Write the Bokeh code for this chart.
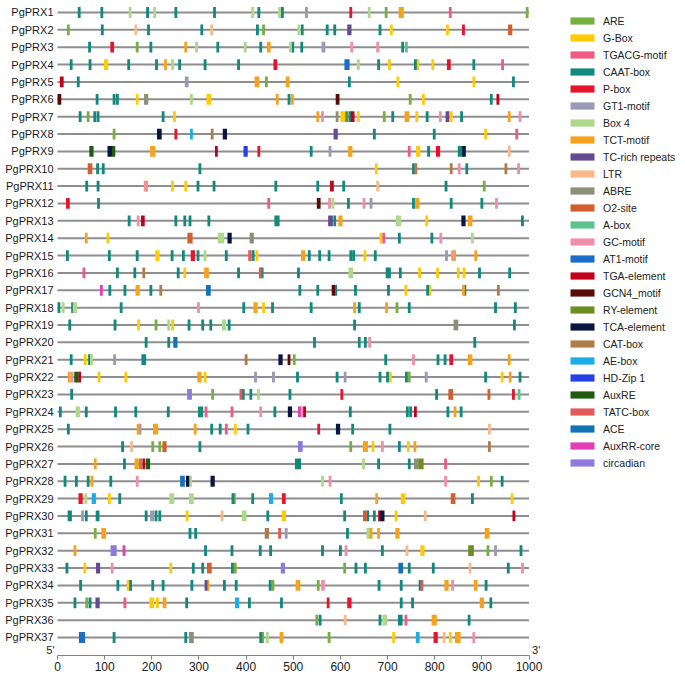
from bokeh.plotting import figure
from bokeh.models import Range1d, FixedTicker, Legend, LegendItem, ColumnDataSource
from bokeh.core.properties import value
from bokeh.embed import file_html
from bokeh.resources import INLINE

# ---------------- data ----------------
genes = [f"PgPRX{i}" for i in range(1, 38)]
gene_length = 1000
x_ticks = [0, 100, 200, 300, 400, 500, 600, 700, 800, 900, 1000]

motif_names = ["ARE", "G-Box", "TGACG-motif", "CAAT-box", "P-box", "GT1-motif", "Box 4",
               "TCT-motif", "TC-rich repeats", "LTR", "ABRE", "O2-site", "A-box", "GC-motif",
               "AT1-motif", "TGA-element", "GCN4_motif", "RY-element", "TCA-element", "CAT-box",
               "AE-box", "HD-Zip 1", "AuxRE", "TATC-box", "ACE", "AuxRR-core", "circadian"]
motif_codes = ["A", "G", "TG", "C", "P", "GT", "B4", "TCT", "TC", "L", "AB", "O2", "Ab", "GC",
               "AT1", "TGA", "GCN", "RY", "TCA", "CAT", "AE", "HD", "AUX", "TATC", "ACE", "ARR", "CIR"]
motif_colors = ["#76B041", "#FFCB05", "#EF5B84", "#118A7D", "#E8132D", "#9C98B8", "#AED98A",
                "#F7A21B", "#654A92", "#F8B98B", "#8C8F78", "#D35F2E", "#5CC28F", "#EF8FAA",
                "#1A6DC9", "#C1001B", "#5B0A0A", "#6D8D22", "#0A1541", "#B07C48",
                "#17AEE9", "#2740E6", "#215B12", "#E25A57", "#1472B6", "#E33DB7", "#8D79DF"]

# (motif code, position in bp[, element length in bp])
PRX1 = [("C",46),("C",94),("B4",154),("C",191),("B4",206),("C",251),("C",333),("B4",414),("C",427),
        ("B4",471),("C",477),("GT",528),("P",622),("B4",661),("A",697),("TCT",729,11),("TG",833),("A",996)]
PRX2 = [("A",23),("C",95),("L",166),("C",193),("C",306),("L",327),("C",424),("A",437),("B4",512),("C",519),
        ("C",572),("C",588),("TC",619,9),("C",684),("G",708),("G",827),("P",861),("O2",960,9)]
PRX3 = [("C",68),("P",116,8),("A",169),("C",198),("TCT",272),("B4",295),("C",340),("B4",398),("C",431),
        ("TCT",448,8),("B4",494),("C",499),("C",518),("GT",564,8),("GC",624),("GC",679),("C",732),("Ab",740)]
PRX4 = [("C",29),("C",69),("G",103,9),("C",151),("C",210),("TCT",229),("B4",244),("C",259),("C",313),
        ("C",384),("P",462,8),("AT1",614,11),("B4",638),("C",681),("G",704),("C",759),("G",764),("G",796),
        ("P",830,8),("C",883),("TG",944)]
PRX5 = [("TGA",9,8),("C",44),("GT",274,8),("TCT",423,10),("A",443),("TCT",488,8),("C",619),("G",722),
        ("G",883),("C",967)]
PRX6 = [("GCN",4,8),("C",84),("C",120),("C",127),("G",169),("AB",188,9),("B4",284),("G",321,10),
        ("TCT",466),("C",491),("TCT",498),("GCN",594,8),("A",748),("G",776),("C",920),("TGA",934)]
PRX7 = [("C",48),("A",65),("C",79),("C",86),("C",224),("G",248),("TCT",552),("GC",562),("AB",593),
        ("G",605,10),("RY",613),("C",620),("TGA",626,8),("G",638),("A",693),("C",711),("TCT",741,10),
        ("G",762),("C",784),("GC",812),("TC",827,8),("G",835),("C",857),("TCT",958),("GC",981)]
PRX8 = [("A",120),("TCA",216,10),("P",251),("AE",284),("CAT",328),("TCA",355,9),("TC",590,9),
        ("C",672),("C",799),("G",908),("TG",974)]
PRX9 = [("AUX",72,9),("TCA",111,10),("AUX",119,7),("TCT",202,11),("TGA",337),("HD",399,9),("P",427),
        ("C",538),("GT",578),("TCT",621,9),("TG",746),("G",765,9),("C",787),("P",807,9),("C",854,10),
        ("TCA",862,8),("L",958)]
PRX10 = [("O2",69,10),("C",85),("C",97),("C",302),("G",676),("C",755),("CAT",760),("CAT",835),("GC",852),
         ("C",868),("CAT",951),("GC",978)]
PRX11 = [("C",62),("C",86),("GC",186),("TCT",189),("G",244),("G",272),("C",298),("C",332),("C",463),
         ("C",552),("TGA",582,8),("C",607),("L",679),("C",824),("A",905)]
PRX12 = [("P",22,8),("C",87),("TG",448),("GCN",554,8),("GC",577),("B4",584),("C",617),("GC",650),
         ("GT",665),("C",755),("TCT",763,9),("C",835),("C",900),("GC",931)]
PRX13 = [("C",152),("GC",171),("TGA",181,8),("C",251),("C",270),("C",281),("C",321),("C",463),("C",468),
         ("TC",579,10),("C",588),("TCT",600,9),("B4",723,11),("G",783),("TCA",861,9),("TCT",875,10),("C",986)]
PRX14 = [("TCT",61),("G",107),("O2",281,11),("B4",347,13),("TCA",365,9),("AB",412,9),("G",686),("TG",692),
         ("C",725),("C",794),("GC",813),("B4",880)]
PRX15 = [("C",21),("C",110),("C",169),("G",212,9),("C",243),("C",267),("P",287,9),("C",298),("B4",313),
         ("C",358),("TATC",408,7),("C",415),("G",423),("TCT",521,9),("C",534),("C",556),("C",576),("C",622),
         ("C",628),("G",652),("C",674),("GT",825),("GC",838),("TCT",842),("TCT",887)]
PRX16 = [("TG",56),("C",127),("C",164),("CAT",183),("C",256),("G",270),("TCT",316,10),("C",384),
         ("TATC",430),("C",434),("C",511),("B4",622,10),("C",699),("C",704),("C",727),("G",768),("G",806),
         ("G",850),("G",862),("C",895),("C",959)]
PRX17 = [("ARR",93),("C",111),("C",143),("TCT",170,9),("C",198),("CAT",219),("ACE",320,10),("C",514),
         ("C",552),("GCN",585,7),("C",590),("C",632),("C",702),("G",739),("C",785),("G",790),("TCT",861),
         ("C",864),("CAT",935)]
PRX18 = [("C",3),("B4",12),("C",32),("B4",37,9),("C",135),("GC",299),("C",395),("TCT",420,9),("G",437),
         ("C",456),("C",538),("TCT",630),("C",640),("TCT",698),("A",720),("C",746),("C",929),("C",971)]
PRX19 = [("C",26),("C",122),("G",172),("A",209),("B4",236),("G",244),("C",279),("C",308),("C",325),
         ("B4",353,9),("C",364),("C",630),("AB",845,10),("C",969)]
PRX20 = [("C",188),("C",236),("ACE",250,9),("C",545),("C",640),("C",653),("GC",662),("C",885)]
PRX21 = [("C",29),("G",59),("C",68),("B4",72),("GT",121),("C",183,10),("CAT",400),("TCA",473,9),
         ("GCN",491),("A",502),("C",696),("GC",755),("C",807),("C",822),("P",835,8),("TCT",875,10),("TCT",958)]
PRX22 = [("TCT",25),("GC",31),("AUX",40,9),("TGA",47),("G",88),("G",145),("TCT",301,9),("G",313),
         ("GT",420),("GT",458),("C",509),("C",593),("GT",610),("C",684),("C",700),("G",706),("C",740),
         ("A",746),("GT",782),("C",908),("G",943),("TCT",960),("C",981)]
PRX23 = [("C",30),("CIR",280,10),("A",329),("TATC",389),("C",394),("C",410),("B4",426),("C",493),
         ("P",603),("C",804),("O2",834,10),("O2",915),("P",967),("Ab",979)]
PRX24 = [("C",6),("B4",43,9),("C",61),("C",123),("C",166),("C",235),("C",301),("C",306),("TG",315),
         ("TG",370),("GC",431),("C",461),("TCA",493,9),("ARR",513),("GC",518),("TGA",524),("C",621),
         ("C",742),("C",749),("TGA",759),("C",828),("TCT",843),("C",856)]
PRX25 = [("C",23),("TCT",171),("GT",175),("TCT",208,11),("TCT",292),("C",327),("C",345),("TG",358),
         ("G",377),("C",404),("P",554),("TCA",595,9),("C",626),("C",705),("L",916)]
PRX26 = [("C",138),("L",157),("A",202),("A",217),("O2",227,9),("C",302),("CIR",515,10),("A",622),
         ("TCT",653,11),("G",669),("GC",689),("C",725),("G",744),("TCT",758),("CAT",916)]
PRX27 = [("TCT",80),("C",142),("TCT",168,9),("CAT",176),("TGA",183),("AUX",192,9),("C",510,13),
         ("B4",649),("C",681),("C",746),("AB",761,10),("RY",771,11),("TG",823)]
PRX28 = [("C",16),("C",40),("C",65),("TCT",73),("C",113),("GC",169),("ACE",265,10),("TCA",276,7),
         ("B4",282),("TCA",329,9),("B4",562),("GC",578),("GC",823),("G",893),("A",920),("C",943)]
PRX29 = [("P",49,9),("B4",60),("AE",77,9),("G",110),("C",132),("B4",242,10),("B4",284,10),("C",372),
         ("A",375),("C",414),("AE",453,9),("P",480,8),("C",602),("TCT",677),("G",733,10),("O2",839,10),
         ("C",880),("G",964)]
PRX30 = [("C",26,9),("GT",53),("C",61),("C",85,8),("C",188),("GT",201,9),("C",209),("C",217),("G",275),
         ("L",349),("B4",396,10),("C",446),("G",480,9),("C",609),("O2",652,8),("C",658),("C",672),
         ("TGA",683),("TCA",689,9),("G",718),("L",780),("TGA",968)]
PRX31 = [("A",80),("TCT",98,10),("C",281),("C",293),("CAT",444,9),("TATC",471),("GT",485),("C",615),
         ("B4",660,9),("TCT",665),("TCT",681),("TCT",721,9),("TCT",911,10)]
PRX32 = [("TCT",37),("CIR",119,13),("ARR",141),("C",314),("C",370),("C",430),("C",452),("C",562),
         ("C",600),("GC",612),("C",689),("L",741),("G",774,9),("RY",877,12),("A",913),("GT",929),("C",983)]
PRX33 = [("C",20),("G",58),("TC",86,9),("GC",116),("G",240),("C",288),("C",308),("O2",322,10),("C",371),
         ("A",377),("CIR",478,9),("A",609),("C",633),("C",653),("ACE",728,10),("C",746),("C",797),("L",875),
         ("C",956),("GC",986)]
PRX34 = [("C",49),("C",128),("G",150),("C",155),("C",202),("C",224),("C",285),("TC",315),("TCT",319),
         ("C",354),("C",379),("C",451),("A",457),("TCT",510,10),("A",553),("GC",563,8),("C",682),("C",729),
         ("C",769),("TATC",773),("TCT",825,9),("GC",838),("TCT",887,8),("C",909)]
PRX35 = [("C",37),("A",62),("C",69),("TC",85,9),("TG",143),("G",200,10),("G",212),("TCT",227,8),
         ("C",274),("AE",381,9),("C",407),("C",475),("P",574),("P",619,9),("C",729),("C",753),
         ("TCT",900,9),("C",919)]
PRX36 = [("A",550),("C",557),("L",610),("C",684),("B4",694,10),("C",727,10),("TG",739),("TCT",799,11),
         ("C",873)]
PRX37 = [("AT1",52,13),("C",120),("C",272),("AB",284,10),("C",431),("A",435),("B4",445),("TCT",475,8),
         ("A",576),("G",713),("AE",764,8),("P",802,9),("L",820),("G",833),("TCT",849,12),("GC",883)]

sites = [PRX1, PRX2, PRX3, PRX4, PRX5, PRX6, PRX7, PRX8, PRX9, PRX10, PRX11, PRX12, PRX13, PRX14,
         PRX15, PRX16, PRX17, PRX18, PRX19, PRX20, PRX21, PRX22, PRX23, PRX24, PRX25, PRX26, PRX27,
         PRX28, PRX29, PRX30, PRX31, PRX32, PRX33, PRX34, PRX35, PRX36, PRX37]

# ---------------- figure ----------------
FONT = "Liberation Sans"
TXT = "#1A1A1A"
BOX_HALF = 0.31
DEFAULT_LEN = 6
Y_TOP, Y_BOTTOM = 0.309, 38.037

p = figure(width=685, height=676, output_backend="svg", toolbar_location=None,
           x_range=Range1d(-120.9, 1331.9), y_range=Range1d(Y_BOTTOM, Y_TOP),
           y_axis_location=None,
           min_border_left=0, min_border_right=0, min_border_top=0, min_border_bottom=21)
p.xgrid.visible = False
p.ygrid.visible = False
p.outline_line_color = None

rows = list(range(1, len(genes) + 1))
line_src = ColumnDataSource(dict(x0=[0] * len(rows), x1=[gene_length] * len(rows), y=rows))
p.segment(x0="x0", x1="x1", y0="y", y1="y", source=line_src, line_color="#8E8E8E", line_width=2)

# gene names
name_src = ColumnDataSource(dict(x=[0] * len(rows), y=rows, t=genes))
p.text(x="x", y="y", text="t", source=name_src, x_offset=-4, text_align="right",
       text_baseline="middle", text_font=value(FONT), text_font_size="11px", text_color=TXT)

data = {c: dict(left=[], right=[], top=[], bottom=[]) for c in motif_codes}
for gi, lst in enumerate(sites):
    row = gi + 1
    for item in lst:
        code, pos = item[0], item[1]
        ln = item[2] if len(item) > 2 else DEFAULT_LEN
        d = data[code]
        d["left"].append(pos - ln / 2)
        d["right"].append(pos + ln / 2)
        d["top"].append(row - BOX_HALF)
        d["bottom"].append(row + BOX_HALF)

items = []
for code, name, col in zip(motif_codes, motif_names, motif_colors):
    r = p.quad(left="left", right="right", top="top", bottom="bottom",
               source=ColumnDataSource(data[code]), fill_color=col, line_color=None)
    items.append(LegendItem(label=name, renderers=[r]))

legend = Legend(items=items, location=(567, 184), orientation="vertical",
                glyph_width=30, glyph_height=9, label_height=17, label_width=20,
                spacing=0, padding=0, margin=0, label_standoff=6,
                label_text_font_size="10.5px", label_text_font=FONT, label_text_color="#222222",
                border_line_color=None, background_fill_alpha=0)
p.add_layout(legend)

# x axis
p.xaxis.bounds = (0, gene_length)
p.xaxis.ticker = FixedTicker(ticks=x_ticks)
p.xaxis.axis_line_color = "#808080"
p.xaxis.major_tick_line_color = "#808080"
p.xaxis.minor_tick_line_color = None
p.xaxis.major_tick_out = 4
p.xaxis.major_tick_in = 0
p.xaxis.major_label_standoff = 2
p.xaxis.major_label_text_font_size = "12px"
p.xaxis.major_label_text_font = FONT
p.xaxis.major_label_text_color = TXT

# 5' / 3' end marks
end_src = ColumnDataSource(dict(x=[0, gene_length], y=[Y_BOTTOM, Y_BOTTOM], t=["5'", "3'"],
                                dx=[-3, 3], al=["right", "left"]))
p.text(x="x", y="y", text="t", source=end_src, x_offset="dx", text_align="al",
       text_baseline="bottom", text_font=value(FONT), text_font_size="11px", text_color=TXT)

open("out.html", "w").write(file_html(p, INLINE))
